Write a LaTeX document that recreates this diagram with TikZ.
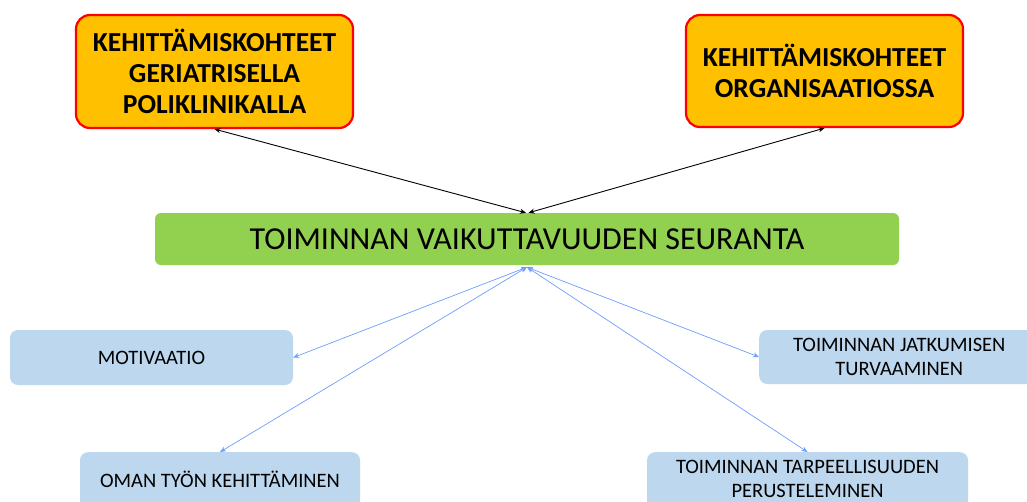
\documentclass[tikz,border=0pt]{standalone}
\usepackage{fontspec}
\setmainfont{Carlito}
\usetikzlibrary{arrows.meta}
\definecolor{orangefill}{HTML}{FFC000}
\definecolor{redline}{HTML}{FF0000}
\definecolor{greenfill}{HTML}{92D050}
\definecolor{bluefill}{HTML}{BDD7EE}
\definecolor{bluearrow}{HTML}{6E9EFF}
\tikzset{
  topbox/.style={draw=redline, line width=2.2pt, fill=orangefill, rounded corners=14pt, align=center, font=\fontsize{27.5}{31}\selectfont\bfseries, inner sep=0pt},
  mainbox/.style={fill=greenfill, rounded corners=6pt, align=center, font=\fontsize{32}{36}\selectfont, inner sep=0pt},
  subbox/.style={fill=bluefill, rounded corners=8pt, align=center, font=\fontsize{20.5}{24}\selectfont, inner sep=0pt},
  subtext/.style={font=\fontsize{20.5}{24}\selectfont, align=center, inner sep=0pt},
  blackarr/.style={{Stealth[length=6pt,width=5pt]}-{Stealth[length=6pt,width=5pt]}, line width=0.9pt, black},
  bluearr/.style={{Stealth[length=6pt,width=5pt]}-{Stealth[length=6pt,width=5pt]}, line width=0.7pt, bluearrow}
}
\begin{document}
\begin{tikzpicture}[x=1pt,y=-1pt]
\clip (0,0) rectangle (1027,501);
\fill[white] (0,0) rectangle (1027,501);
\node[topbox, minimum width=277pt, minimum height=113pt] (tl) at (214.5,71.5) {KEHITTÄMISKOHTEET\\GERIATRISELLA\\POLIKLINIKALLA};
\node[topbox, minimum width=277pt, minimum height=112pt] (tr) at (824.5,71) {KEHITTÄMISKOHTEET\\ORGANISAATIOSSA};
\node[mainbox, minimum width=744pt, minimum height=52pt] (main) at (527,239) {TOIMINNAN VAIKUTTAVUUDEN SEURANTA};
\node[subbox, minimum width=283pt, minimum height=55pt] (mot) at (151.5,357.5) {MOTIVAATIO};
\node[subbox, minimum width=280pt, minimum height=70pt, anchor=north] (oman) at (220,452) {};
\node[subtext] (omant) at (220,479) {OMAN TYÖN KEHITTÄMINEN};
\node[subbox, minimum width=280pt, minimum height=54pt, anchor=west] (jat) at (759,357) {TOIMINNAN JATKUMISEN\\TURVAAMINEN};
\node[subbox, minimum width=321pt, minimum height=70pt, anchor=north] (tarp) at (807.5,452) {};
\node[subtext] (tarpt) at (807.5,479) {TOIMINNAN TARPEELLISUUDEN\\PERUSTELEMINEN};
\coordinate (mtop) at ([xshift=1.5pt]main.north);
\draw[blackarr] (tl.south) -- ([xshift=-1pt]main.north);
\draw[blackarr] (tr.south) -- (mtop);
\draw[bluearr] ([yshift=-2pt]main.south) -- (mot.east);
\draw[bluearr] ([yshift=-2pt]main.south) -- (oman.north);
\draw[bluearr] ([yshift=-2pt]main.south) -- (jat.west);
\draw[bluearr] ([yshift=-2pt]main.south) -- (tarp.north);
\end{tikzpicture}
\end{document}
